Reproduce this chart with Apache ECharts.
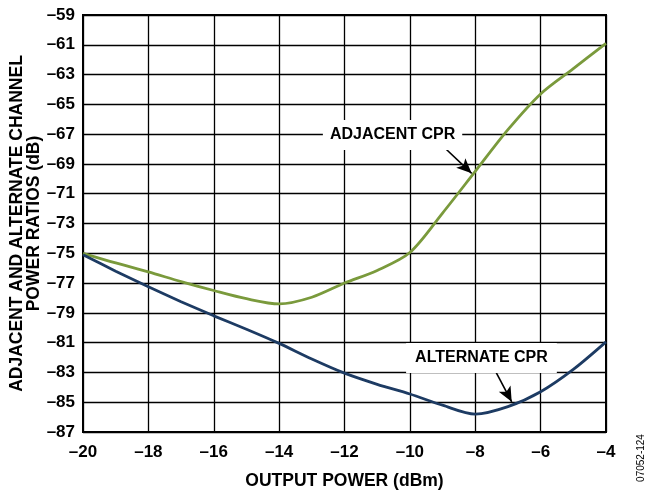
<!DOCTYPE html>
<html>
<head>
<meta charset="utf-8">
<script src="https://cdn.jsdelivr.net/npm/echarts@6/dist/echarts.min.js"></script>
<style>
  html, body { margin: 0; padding: 0; background: #fff; }
  #chart { width: 650px; height: 493px; }
</style>
</head>
<body>
<div id="chart"></div>
<script>
// output power (dBm)
const outputPower = [-20, -19, -18, -17, -16, -15, -14, -13, -12, -11, -10, -9, -8, -7, -6, -5, -4]
// channel power ratios (dB)
const adjacentCpr = [-75.0, -75.65, -76.25, -76.9, -77.5, -78.05, -78.4, -77.95, -77.0, -76.15, -74.95, -72.3, -69.5, -66.7, -64.3, -62.6, -60.9]
const alternateCpr = [-75.1, -76.2, -77.25, -78.25, -79.2, -80.1, -81.05, -82.1, -83.05, -83.8, -84.45, -85.2, -85.8, -85.3, -84.3, -82.8, -80.95]

// callouts: label position and arrow (start, tip) in data units
const adjacentLabel = [-10.53, -67.06]
const adjacentArrow = [[-8.93, -67.93], [-8.11, -69.63]]
const alternateLabel = [-7.81, -82.03]
const alternateArrow = [[-7.37, -82.97], [-6.885, -84.97]]

const font = 'Liberation Sans, Arial, sans-serif'
const dash = v => String(v).replace('-', '\u2013')

const myChart = echarts.init(document.getElementById('chart'))

const calloutLabel = {
  show: true,
  position: 'inside',
  color: '#000',
  fontFamily: font,
  fontWeight: 'bold',
  fontSize: 16,
  backgroundColor: '#fff',
  padding: [7, 7]
}

const arrowLine = {
  silent: true,
  symbol: ['none', 'arrow'],
  symbolSize: [10, 15],
  label: { show: false },
  lineStyle: { color: '#000', width: 1.6, type: 'solid' }
}

const option = {
  animation: false,
  grid: {
    left: 83,
    top: 15,
    right: 44,
    bottom: 61,
    outerBoundsMode: 'none',
    show: true,
    borderColor: '#000',
    borderWidth: 2
  },
  xAxis: {
    type: 'value',
    min: -20,
    max: -4,
    interval: 2,
    name: 'OUTPUT POWER (dBm)',
    nameLocation: 'middle',
    nameGap: 40,
    nameMoveOverlap: false,
    nameTextStyle: { color: '#000', fontFamily: font, fontWeight: 'bold', fontSize: 17.5 },
    axisLine: { lineStyle: { color: '#000', width: 2 } },
    axisTick: { show: false },
    axisLabel: { color: '#000', fontFamily: font, fontWeight: 'bold', fontSize: 17, margin: 12, formatter: dash },
    splitLine: { lineStyle: { color: '#000', width: 1.3 } }
  },
  yAxis: {
    type: 'value',
    min: -87,
    max: -59,
    interval: 2,
    name: 'ADJACENT AND ALTERNATE CHANNEL\nPOWER RATIOS (dB)',
    nameLocation: 'middle',
    nameGap: 40,
    nameMoveOverlap: false,
    nameTextStyle: { color: '#000', fontFamily: font, fontWeight: 'bold', fontSize: 17.5, lineHeight: 17, align: 'center' },
    axisLine: { show: true, lineStyle: { color: '#000', width: 2 } },
    axisTick: { show: false },
    axisLabel: { color: '#000', fontFamily: font, fontWeight: 'bold', fontSize: 17, margin: 8, formatter: dash },
    splitLine: { lineStyle: { color: '#000', width: 1.3 } }
  },
  graphic: [
    {
      type: 'text',
      x: 641,
      y: 458,
      rotation: Math.PI / 2,
      style: {
        text: '07052-124',
        fill: '#000',
        font: '10px ' + font,
        align: 'center',
        verticalAlign: 'middle'
      }
    }
  ],
  series: [
    {
      name: 'ADJACENT CPR',
      type: 'line',
      data: outputPower.map((x, i) => [x, adjacentCpr[i]]),
      smooth: 0.3,
      symbol: 'none',
      lineStyle: { color: '#7a9a3c', width: 2.8 },
      markPoint: {
        symbol: 'rect',
        symbolSize: 0,
        label: calloutLabel,
        data: [{ coord: adjacentLabel, value: 'ADJACENT CPR' }],
        z: 5
      },
      markLine: Object.assign({}, arrowLine, {
        data: [[{ coord: adjacentArrow[0] }, { coord: adjacentArrow[1] }]]
      })
    },
    {
      name: 'ALTERNATE CPR',
      type: 'line',
      data: outputPower.map((x, i) => [x, alternateCpr[i]]),
      smooth: 0.3,
      symbol: 'none',
      lineStyle: { color: '#1d3b63', width: 2.8 },
      markPoint: {
        symbol: 'rect',
        symbolSize: 0,
        label: Object.assign({}, calloutLabel, { padding: [7, 9] }),
        data: [{ coord: alternateLabel, value: 'ALTERNATE CPR' }],
        z: 5
      },
      markLine: Object.assign({}, arrowLine, {
        data: [[{ coord: alternateArrow[0] }, { coord: alternateArrow[1] }]]
      })
    }
  ]
}

myChart.setOption(option)

window.addEventListener('resize', () => {
  myChart.resize()
})
</script>
</body>
</html>
